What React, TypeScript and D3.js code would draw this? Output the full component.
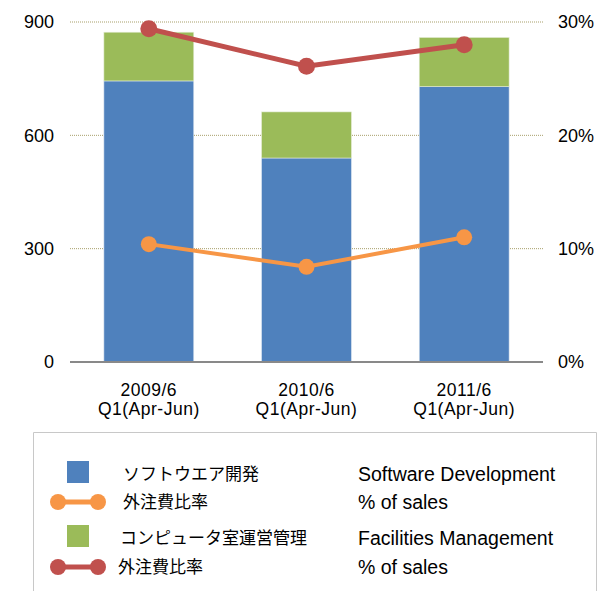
import React from "react";
import * as d3 from "d3";

const categories = ["2009/6\nQ1(Apr-Jun)", "2010/6\nQ1(Apr-Jun)", "2011/6\nQ1(Apr-Jun)"];
const software = [744, 540, 729];
const facilities = [129, 122, 130];
const softwareRate = [10.4, 8.4, 11.0];
const facilitiesRate = [29.4, 26.1, 28.0];
const leftTicks = [0, 300, 600, 900];
const rightTicks = [0, 10, 20, 30];

const W = 599;
const H = 591;
const blue = "#4f81bd";
const green = "#9bbb59";
const orange = "#f79646";
const red = "#c0504d";
const font = "'Liberation Sans', Arial, sans-serif";
const jpFont = "'Noto Sans CJK JP', 'Liberation Sans', sans-serif";

export default function App() {
  const x = d3.scaleBand().domain(categories).range([70, 543]).paddingInner(0.43).paddingOuter(0.215);
  const y = d3.scaleLinear().domain([0, 900]).range([362, 22]);
  const y2 = d3.scaleLinear().domain([0, 30]).range([362, 22]);
  const cx = (c: string) => (x(c) as number) + x.bandwidth() / 2;

  const line = d3.line<[number, number]>().x((d) => d[0]).y((d) => d[1]);
  const orangePts: [number, number][] = categories.map((c, i) => [cx(c), y2(softwareRate[i])]);
  const redPts: [number, number][] = categories.map((c, i) => [cx(c), y2(facilitiesRate[i])]);

  const legend = [
    { kind: "rect", color: blue, jp: "ソフトウエア開発", en: "Software Development", y: 474, jx: 123 },
    { kind: "line", color: orange, jp: "外注費比率", en: "% of sales", y: 502, jx: 123 },
    { kind: "rect", color: green, jp: "コンピュータ室運営管理", en: "Facilities Management", y: 538, jx: 120 },
    { kind: "line", color: red, jp: "外注費比率", en: "% of sales", y: 567, jx: 118 },
  ];

  return (
    <div style={{ position: "fixed", left: 0, top: 0 }}>
      <svg width={W} height={H} style={{ display: "block", background: "#fff" }}>
        {/* gridlines */}
        {leftTicks.filter((t) => t > 0).map((t) => (
          <line key={t} x1={70} x2={543} y1={y(t)} y2={y(t)} stroke="#a89f6a" strokeWidth={1} strokeDasharray="1,1" />
        ))}
        {/* stacked bars */}
        {categories.map((c, i) => (
          <g key={c}>
            <rect x={x(c)} width={x.bandwidth()} y={y(software[i])} height={y(0) - y(software[i])} fill={blue} stroke="#dde6f0" strokeWidth={0.6} />
            <rect x={x(c)} width={x.bandwidth()} y={y(software[i] + facilities[i])} height={y(software[i]) - y(software[i] + facilities[i])} fill={green} stroke="#e4ecd6" strokeWidth={0.6} />
          </g>
        ))}
        {/* baseline */}
        <line x1={70} x2={543} y1={y(0)} y2={y(0)} stroke="#898989" strokeWidth={2} />
        {/* left axis labels */}
        {leftTicks.map((t) => (
          <text key={t} x={54} y={y(t)} dy="0.35em" textAnchor="end" fontFamily={font} fontSize={18} fill="#000">{t}</text>
        ))}
        {/* right axis labels */}
        {rightTicks.map((t) => (
          <text key={t} x={558} y={y2(t)} dy="0.35em" textAnchor="start" fontFamily={font} fontSize={18} fill="#000">{t}%</text>
        ))}
        {/* category labels */}
        {categories.map((c) => (
          <text key={c} x={cx(c)} y={396} textAnchor="middle" fontFamily={font} fontSize={17.5} letterSpacing={0.5} fill="#000">
            {c.split("\n").map((s, k) => (
              <tspan key={k} x={cx(c)} dy={k === 0 ? 0 : 19}>{s}</tspan>
            ))}
          </text>
        ))}
        {/* lines */}
        <path d={line(orangePts) || ""} fill="none" stroke={orange} strokeWidth={4} />
        {orangePts.map((p, i) => <circle key={i} cx={p[0]} cy={p[1]} r={8} fill={orange} />)}
        <path d={line(redPts) || ""} fill="none" stroke={red} strokeWidth={5} />
        {redPts.map((p, i) => <circle key={i} cx={p[0]} cy={p[1]} r={8.5} fill={red} />)}
        {/* legend */}
        <path d={`M33.5,${H}V432.5H596.5V${H}`} fill="none" stroke="#c8c8c8" strokeWidth={1} />
        {legend.map((l, i) => (
          <g key={i}>
            {l.kind === "rect" ? (
              <rect x={67} y={l.y - 13} width={22} height={22} fill={l.color} />
            ) : (
              <g>
                <line x1={58} x2={98} y1={l.y} y2={l.y} stroke={l.color} strokeWidth={5} />
                <circle cx={58} cy={l.y} r={8} fill={l.color} />
                <circle cx={98} cy={l.y} r={8} fill={l.color} />
              </g>
            )}
            <text x={l.jx} y={l.y} dy="0.35em" fontFamily={jpFont} fontSize={17} fill="#000">{l.jp}</text>
            <text x={358} y={l.y} dy="0.35em" fontFamily={font} fontSize={19.5} fill="#000">{l.en}</text>
          </g>
        ))}
      </svg>
    </div>
  );
}
